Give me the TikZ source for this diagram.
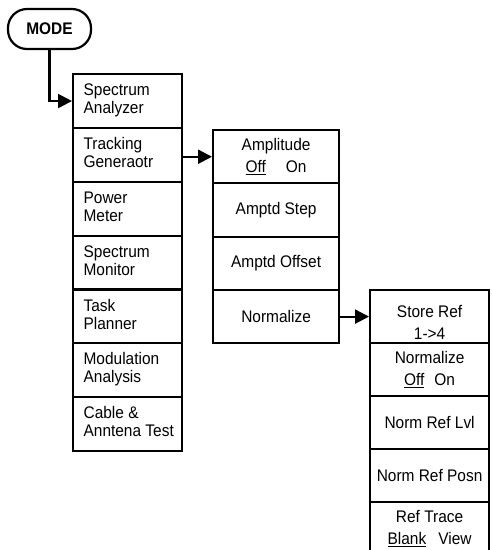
\documentclass[tikz,border=0pt]{standalone}
\usepackage{fontspec}
\setmainfont{Liberation Sans}[FakeStretch=0.92]
\usetikzlibrary{arrows.meta}
\newcommand{\lefttext}[1]{\makebox[109pt][l]{\hspace*{10.5pt}\begin{tabular}{@{}l@{}}#1\end{tabular}}}
\begin{document}
\begin{tikzpicture}[x=1pt,y=-1pt,
  every node/.style={font=\fontsize{16.8}{22}\selectfont},
  box/.style={draw, line width=2.2pt, inner sep=0pt, anchor=north west, align=center},
  lcell/.style={box, minimum width=109pt, minimum height=53.86pt, font=\fontsize{16.8}{18}\selectfont},
  mcell/.style={box, minimum width=126pt, minimum height=53.25pt},
  rcell/.style={box, minimum width=119pt, minimum height=53pt},
  modebox/.style={draw, line width=2.2pt, rounded corners=19pt, minimum width=83pt, minimum height=40pt, inner sep=0pt, font=\fontsize{16.8}{18}\selectfont\bfseries},
  conn/.style={line width=2.2pt, -{Triangle[length=14pt,width=14pt]}}
]
\useasboundingbox (0,0) rectangle (492,550);

% MODE key
\node[modebox] (mode) at (49.5,29) {MODE};

% left column
\node[lcell] (l1) at (72,73) {\lefttext{Spectrum\\Analyzer}};
\node[lcell] (l2) at (72,126.86) {\lefttext{Tracking\\Generaotr}};
\node[lcell] (l3) at (72,180.71) {\lefttext{Power\\Meter}};
\node[lcell] (l4) at (72,234.57) {\lefttext{Spectrum\\Monitor}};
\node[lcell] (l5) at (72,288.43) {\lefttext{Task\\Planner}};
\node[lcell] (l6) at (72,342.29) {\lefttext{Modulation\\Analysis}};
\node[lcell] (l7) at (72,396.14) {\lefttext{Cable \&\\Anntena Test}};

% middle column
\node[mcell] (m1) at (212,129) {Amplitude\\\underline{Off}\hspace{20pt}On};
\node[mcell] (m2) at (212,182.25) {Amptd Step};
\node[mcell] (m3) at (212,235.5) {Amptd Offset};
\node[mcell] (m4) at (212,288.75) {Normalize};

% right column
\node[rcell] (r1) at (369,289) {};
\node[align=center, inner sep=0pt] (r1t) at ([yshift=-6pt]r1.center) {Store Ref\\1->4};
\node[rcell] (r2) at (369,342) {Normalize\\\underline{Off}\hspace{10pt}On};
\node[rcell] (r3) at (369,395) {Norm Ref Lvl};
\node[rcell] (r4) at (369,448) {Norm Ref Posn};
\node[rcell] (r5) at (369,501) {Ref Trace\\\underline{Blank}\hspace{12pt}View};

% connectors
\draw[conn] (mode.south) |- (l1.west);
\draw[conn] (m1.west -| l2.east) -- (m1.west);
\draw[conn] (r1.west -| m4.east) -- (r1.west);
\end{tikzpicture}
\end{document}
